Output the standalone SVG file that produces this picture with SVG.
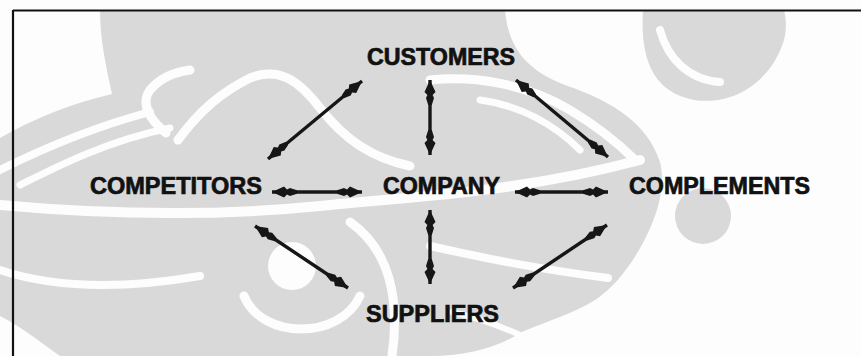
<svg xmlns="http://www.w3.org/2000/svg" width="861" height="356" viewBox="0 0 861 356">
<defs>
<style>
.wm{fill:#d9d9d9;stroke:none}
.ws{fill:none;stroke:#fdfdfd;stroke-linecap:round}
.lbl{font-family:"Liberation Sans",Arial,sans-serif;font-weight:bold;font-size:23px;fill:#111;stroke:#111;stroke-width:0.7}
.conn{stroke:#161616;stroke-width:3.4;fill:none;marker-start:url(#ah);marker-end:url(#ah)}
</style>
<marker id="ah" viewBox="0 -7 26 14" refX="25" refY="0" markerWidth="26" markerHeight="14" markerUnits="userSpaceOnUse" orient="auto-start-reverse">
<path d="M25,0 L13,-5.5 L10,-2.6 L7,-4 L0,-1.8 L0,1.8 L7,4 L10,2.6 L13,5.5 Z" fill="#161616"/>
</marker>
</defs>
<rect width="861" height="356" fill="#fdfdfd"/>
<g id="watermark">
<path class="wm" d="M100,10 L505,10 C508,50 530,72 565,85 C615,102 648,125 660,162 C668,195 650,232 636,255 C624,274 612,288 598,298 C578,312 545,322 522,332 C500,346 470,356 430,356 L60,356 C40,342 20,326 0,316 L0,138 C35,118 70,104 112,94 C106,66 100,40 100,10 Z"/>
<path class="wm" d="M643,10 C640,58 652,92 694,100 C735,106 772,80 784,40 C787,28 786,18 784,10 Z"/>
<circle class="wm" cx="703" cy="216" r="28"/>
<path class="ws" stroke-width="10" d="M0,205 C110,215 220,216 320,206 C420,196 520,192 640,160"/>
<path class="ws" stroke-width="9" d="M178,140 C200,110 222,92 250,78 C280,66 300,82 320,108 C345,140 372,158 410,166"/>
<path class="ws" stroke-width="9" d="M166,133 C150,120 140,104 150,90 C160,78 175,72 190,70"/>
<path class="ws" stroke-width="8" d="M0,170 C40,150 90,128 150,112"/>
<path class="ws" stroke-width="7" d="M20,185 C60,165 110,140 170,128"/>
<path class="ws" stroke-width="9" d="M430,80 C480,75 530,86 570,110 C600,128 620,145 635,160"/>
<path class="ws" stroke-width="7" d="M480,100 C520,105 555,125 580,150"/>
<path class="ws" stroke-width="8" d="M660,30 C668,60 690,80 720,82"/>
<circle cx="292" cy="266" r="24" fill="#fdfdfd"/>
<path class="ws" stroke-width="9" d="M244,296 C262,340 340,340 360,296"/>
<path class="ws" stroke-width="9" d="M350,222 C390,250 400,300 392,356"/>
<path class="ws" stroke-width="8" d="M430,246 C500,262 560,272 608,278"/>
<path class="ws" stroke-width="8" d="M0,270 C60,290 130,288 200,276"/>
<path class="ws" stroke-width="6" d="M452,312 C480,318 500,326 520,335"/>
</g>
<g id="border">
<path d="M13,10.5 L861,10.5 M13,10 L13,356" stroke="#111" stroke-width="2.2" fill="none"/>
</g>
<g id="connectors">
<line class="conn" x1="362" y1="81" x2="268" y2="159"/>
<line class="conn" x1="430" y1="80" x2="430" y2="155"/>
<line class="conn" x1="516" y1="80" x2="608" y2="157"/>
<line class="conn" x1="272" y1="192" x2="362" y2="192"/>
<line class="conn" x1="515" y1="192" x2="608" y2="192"/>
<line class="conn" x1="430" y1="210" x2="430" y2="284"/>
<line class="conn" x1="255" y1="226" x2="348" y2="288"/>
<line class="conn" x1="607" y1="225" x2="513" y2="288"/>
</g>
<g id="customers"><text class="lbl" x="367" y="65" textLength="148" lengthAdjust="spacingAndGlyphs">CUSTOMERS</text></g>
<g id="competitors"><text class="lbl" x="90" y="194" textLength="172" lengthAdjust="spacingAndGlyphs">COMPETITORS</text></g>
<g id="company"><text class="lbl" x="383" y="194" textLength="117" lengthAdjust="spacingAndGlyphs">COMPANY</text></g>
<g id="complements"><text class="lbl" x="629" y="194" textLength="181" lengthAdjust="spacingAndGlyphs">COMPLEMENTS</text></g>
<g id="suppliers"><text class="lbl" x="366" y="322" textLength="133" lengthAdjust="spacingAndGlyphs">SUPPLIERS</text></g>
</svg>
